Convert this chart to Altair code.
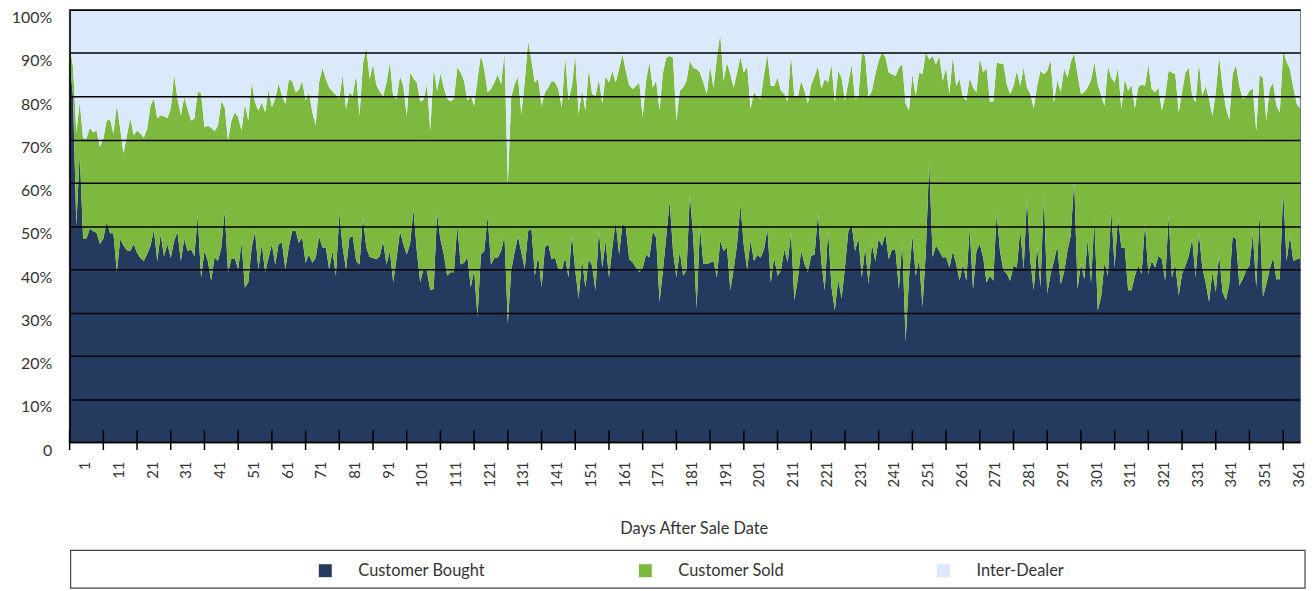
import altair as alt
import pandas as pd

days = list(range(366))

bought = [
    88, 80, 50, 66.8, 47.1, 47.1, 49.4, 48.8, 48.4, 45.8,
    47.1, 51.0, 48.3, 48.3, 39.3, 46.9, 45.4, 44.4, 44.2, 45.8,
    43.8, 42.6, 41.9, 43.5, 45.4, 49.2, 41.9, 48.0, 43.0, 45.8,
    42.6, 46.5, 48.6, 41.9, 47.0, 44.2, 44.6, 43.0, 52.3, 38.1,
    44.2, 41.9, 37.3, 42.8, 41.9, 45.0, 53.4, 39.3, 42.5, 42.5,
    40.0, 46.1, 35.7, 37.0, 45.0, 48.8, 40.0, 45.8, 39.3, 42.6,
    45.8, 41.1, 45.9, 46.1, 40.0, 45.0, 48.8, 49.0, 46.1, 47.4,
    41.5, 43.4, 41.5, 42.6, 47.6, 45.0, 45.0, 40.0, 44.2, 38.5,
    53.0, 45.0, 40.0, 47.3, 47.6, 41.9, 41.1, 52.0, 45.0, 42.8,
    42.6, 42.3, 43.0, 46.4, 41.1, 44.2, 37.0, 42.6, 48.8, 45.8,
    43.4, 45.8, 53.8, 44.2, 37.0, 40.0, 39.6, 35.1, 35.5, 53.0,
    46.9, 43.4, 38.5, 39.3, 39.3, 50.2, 41.1, 41.5, 42.8, 35.8,
    39.8, 28.9, 43.4, 44.2, 52.3, 41.1, 42.6, 42.7, 44.2, 47.6,
    27.5, 39.7, 44.0, 47.6, 44.0, 40.0, 48.8, 49.4, 38.5, 43.1,
    35.8, 45.0, 45.8, 42.3, 42.7, 40.0, 39.7, 42.7, 38.1, 47.9,
    39.7, 33.2, 42.3, 35.8, 42.3, 40.8, 35.1, 49.0, 40.4, 46.5,
    38.1, 45.0, 50.9, 43.4, 50.5, 49.6, 42.3, 41.6, 40.4, 39.3,
    40.3, 43.4, 42.7, 48.8, 47.3, 32.4, 39.7, 47.6, 55.8, 44.2,
    38.1, 44.2, 38.5, 39.7, 57.4, 47.3, 30.9, 50.0, 41.2, 41.2,
    41.5, 41.9, 38.1, 46.5, 44.2, 45.0, 35.1, 40.0, 45.8, 54.9,
    45.4, 40.0, 46.7, 41.9, 43.3, 42.7, 44.6, 49.4, 36.9, 42.7,
    38.5, 39.7, 44.6, 41.6, 48.4, 32.8, 37.7, 44.4, 41.2, 39.3,
    43.1, 43.4, 53.0, 41.6, 35.1, 49.2, 35.8, 30.5, 37.7, 33.2,
    40.4, 48.8, 50.3, 44.2, 47.3, 38.1, 45.0, 36.5, 45.8, 41.9,
    47.0, 45.4, 48.2, 42.3, 44.6, 44.4, 35.4, 46.5, 23.3, 38.1,
    47.9, 38.5, 42.3, 31.3, 44.2, 64.9, 42.8, 45.4, 44.2, 42.7,
    42.8, 40.4, 44.2, 41.2, 37.3, 41.2, 37.3, 49.6, 35.4, 44.2,
    45.8, 42.7, 36.9, 38.5, 37.3, 53.0, 44.2, 39.7, 39.0, 37.3,
    40.8, 40.4, 49.2, 40.0, 56.5, 41.9, 35.1, 45.4, 35.8, 57.2,
    34.3, 38.9, 41.9, 45.4, 36.5, 39.3, 44.2, 47.9, 60.7, 35.4,
    41.2, 37.7, 46.9, 36.9, 51.5, 30.5, 33.6, 41.6, 38.5, 53.8,
    40.4, 51.9, 45.0, 45.0, 35.1, 35.1, 38.5, 40.8, 38.9, 50.7,
    38.9, 41.9, 40.4, 43.1, 42.3, 37.3, 52.2, 38.1, 41.2, 33.9,
    38.9, 40.8, 43.1, 47.1, 38.1, 48.4, 40.4, 36.9, 32.4, 39.3,
    34.7, 43.4, 34.7, 32.8, 36.5, 47.6, 46.9, 36.2, 37.7, 39.7,
    40.8, 48.4, 35.8, 53.0, 33.6, 36.5, 40.0, 42.7, 37.7, 37.7,
    58.4, 41.9, 47.6, 41.9, 42.3, 42.5,
]

bought_plus_sold = [
    91.6, 87.0, 71.7, 78.6, 70.2, 70.2, 72.7, 71.6, 72.1, 68.3,
    70.2, 74.4, 74.6, 71.4, 78.0, 72.5, 66.8, 71.0, 75.0, 71.0,
    72.1, 71.4, 70.4, 72.5, 77.9, 79.4, 74.9, 75.6, 75.4, 74.9,
    77.1, 85.1, 79.4, 75.6, 79.8, 77.1, 74.4, 74.8, 81.1, 80.7,
    72.9, 73.2, 72.7, 71.9, 73.2, 78.8, 77.5, 69.8, 74.4, 76.3,
    75.2, 72.1, 78.2, 74.4, 83.2, 78.6, 76.7, 78.6, 76.3, 81.5,
    77.5, 79.4, 83.0, 80.1, 78.2, 83.8, 83.6, 80.9, 81.5, 83.6,
    79.0, 80.8, 76.3, 73.3, 83.2, 86.6, 84.0, 82.0, 81.1, 80.3,
    79.4, 84.9, 77.1, 80.8, 80.1, 85.1, 75.5, 87.4, 91.4, 84.0,
    87.4, 82.6, 81.1, 80.0, 83.2, 87.9, 79.8, 79.4, 84.7, 82.4,
    75.5, 85.5, 84.1, 83.2, 78.8, 79.2, 82.8, 72.1, 86.6, 81.2,
    85.3, 82.0, 79.4, 78.8, 79.4, 86.6, 85.5, 83.6, 79.0, 80.1,
    77.8, 84.0, 89.5, 86.3, 80.9, 81.7, 83.2, 85.1, 82.8, 90.1,
    59.9, 79.8, 82.8, 84.5, 75.9, 83.2, 92.9, 88.2, 83.2, 84.1,
    77.8, 80.9, 82.0, 83.6, 83.2, 81.7, 77.4, 89.3, 79.0, 82.4,
    89.5, 75.9, 81.5, 76.7, 86.3, 80.5, 80.1, 84.0, 78.3, 84.7,
    83.2, 85.9, 83.2, 86.3, 89.7, 85.9, 82.6, 81.7, 82.4, 83.2,
    75.2, 83.6, 87.9, 82.0, 83.6, 76.7, 85.5, 88.9, 89.3, 88.9,
    74.4, 81.3, 82.0, 83.6, 88.2, 86.6, 86.3, 85.5, 83.2, 80.5,
    87.0, 82.0, 88.9, 94.5, 83.6, 87.8, 85.1, 82.0, 85.5, 89.1,
    85.5, 87.0, 77.1, 80.9, 79.8, 79.4, 85.1, 89.7, 82.4, 82.4,
    84.3, 81.3, 80.5, 78.8, 89.7, 79.8, 79.8, 83.6, 81.3, 78.3,
    82.8, 84.7, 87.0, 81.7, 84.0, 83.2, 87.4, 78.6, 85.9, 84.3,
    79.0, 83.2, 87.4, 79.4, 79.8, 90.1, 89.3, 79.8, 81.3, 85.1,
    88.2, 90.2, 89.1, 85.5, 85.1, 84.7, 86.6, 87.4, 78.3, 76.7,
    85.1, 80.1, 85.5, 85.1, 90.2, 88.5, 89.3, 87.4, 89.3, 83.6,
    86.6, 80.5, 89.3, 82.4, 84.0, 79.8, 79.0, 84.3, 82.0, 80.9,
    88.9, 85.5, 86.6, 78.8, 78.8, 87.8, 87.6, 87.6, 82.8, 80.5,
    82.4, 85.9, 82.4, 86.6, 82.0, 80.5, 77.2, 82.4, 85.9, 85.1,
    85.9, 88.4, 78.6, 83.8, 80.9, 86.4, 84.3, 88.0, 90.0, 85.1,
    80.5, 80.9, 82.0, 83.8, 87.9, 82.8, 80.1, 77.8, 87.0, 84.3,
    83.2, 86.6, 77.1, 84.0, 81.3, 82.6, 77.2, 82.0, 82.8, 82.4,
    87.4, 81.7, 80.9, 82.0, 76.7, 80.1, 85.9, 85.5, 85.1, 76.3,
    80.9, 85.5, 86.6, 80.1, 78.6, 87.8, 80.1, 82.4, 79.4, 75.5,
    80.9, 89.3, 82.4, 77.4, 74.6, 85.1, 87.2, 82.4, 79.4, 79.8,
    81.3, 81.8, 72.1, 84.9, 84.3, 74.4, 81.7, 83.2, 77.8, 76.3,
    90.5, 88.0, 86.3, 82.0, 78.3, 77.1,
]

series_names = ["Customer Bought", "Customer Sold", "Inter-Dealer"]
series_colors = ["#243a5e", "#7db93f", "#dbeafa"]
tick_days = list(range(0, 361, 10))
label_days = list(range(1, 362, 10))
y_ticks = list(range(0, 101, 10))

rows = []
for d, b, c in zip(days, bought, bought_plus_sold):
    rows.append({"day": d, "series": series_names[0], "order": 0, "share": b})
    rows.append({"day": d, "series": series_names[1], "order": 1, "share": round(c - b, 3)})
    rows.append({"day": d, "series": series_names[2], "order": 2, "share": round(100 - c, 3)})
df = pd.DataFrame(rows)

x_scale = alt.Scale(domain=[0, 365], nice=False, zero=False)
x_axis = alt.Axis(
    values=[d + 3.5 for d in label_days],
    labelExpr="format(datum.value - 3.5, 'd')",
    labelAngle=270,
    labelOverlap=False,
    labelBound=False,
    labelFlush=False,
    ticks=False,
    grid=False,
    labelPadding=19,
    labelFontSize=15,
    titleFontSize=16.5,
    titleFontWeight="normal",
    titlePadding=34,
    titleX=628,
    domainColor="black",
    domainWidth=1.5,
    zindex=1,
)
x_title = "Days After Sale Date"

area = alt.Chart(df).mark_area(interpolate="linear").encode(
    x=alt.X("day:Q", scale=x_scale, title=x_title, axis=x_axis),
    y=alt.Y(
        "share:Q",
        stack="zero",
        scale=alt.Scale(domain=[0, 100], nice=False),
        title=None,
        axis=alt.Axis(
            values=y_ticks,
            labelExpr="datum.value == 0 ? '0' : datum.value + '%'",
            ticks=False,
            grid=True,
            gridColor="black",
            gridWidth=1.5,
            gridOpacity=1,
            zindex=1,
            labelOffset=8,
            labelPadding=18,
            labelFontSize=16,
            domainColor="black",
            domainWidth=1.5,
        ),
    ),
    color=alt.Color(
        "series:N",
        scale=alt.Scale(domain=series_names, range=series_colors),
        legend=alt.Legend(
            title=None,
            orient="none",
            legendX=249,
            legendY=556,
            direction="horizontal",
            symbolType="square",
            symbolSize=170,
            symbolStrokeWidth=0,
            symbolOpacity=1,
            labelFontSize=16.5,
            labelColor="#333333",
            columnPadding=152,
            labelOffset=25,
            padding=0,
        ),
    ),
    order=alt.Order("order:Q"),
)

tick_marks = alt.Chart(pd.DataFrame({"day": tick_days})).mark_rule(
    color="black", strokeWidth=1.5
).encode(
    x=alt.X("day:Q", scale=x_scale, title=x_title, axis=x_axis),
    y=alt.value(423),
    y2=alt.value(443),
)

legend_box = alt.Chart(pd.DataFrame({"k": [0]})).mark_rect(
    fill="white", fillOpacity=0, stroke="#444444", strokeWidth=1.2
).encode(
    x=alt.value(1),
    x2=alt.value(1243),
    y=alt.value(544),
    y2=alt.value(582),
)

chart = alt.layer(area, tick_marks, legend_box).properties(
    width=1238,
    height=435,
    autosize=alt.AutoSizeParams(type="none"),
    padding={"left": 62, "top": 0, "right": 6, "bottom": 148},
).configure(
    font="Lato",
).configure_axis(
    labelColor="#333333",
    titleColor="#333333",
    labelFont="Lato",
    titleFont="Lato",
).configure_axisX(
    labelOverlap=False,
).configure_legend(
    labelFont="Lato",
).configure_view(
    stroke="#555555",
    strokeWidth=1.5,
)

chart.save("out.html", embed_options={"renderer": "svg", "actions": False})
